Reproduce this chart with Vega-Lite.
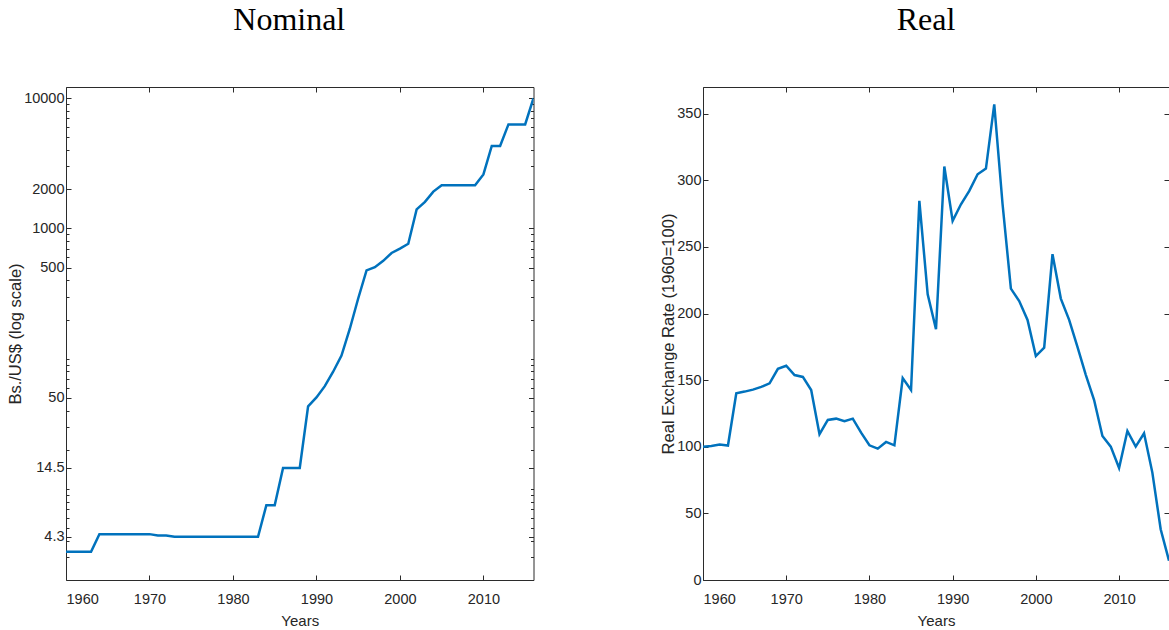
{
  "$schema": "https://vega.github.io/schema/vega-lite/v6.json",
  "padding": {"left": 7, "top": 3, "right": 0, "bottom": 0},
  "background": "white",
  "spacing": 126,
  "datasets": {
    "nominal": [
      {"year": 1960, "rate": 3.3}, {"year": 1961, "rate": 3.3}, {"year": 1962, "rate": 3.3}, {"year": 1963, "rate": 3.3},
      {"year": 1964, "rate": 4.5}, {"year": 1965, "rate": 4.5}, {"year": 1966, "rate": 4.5}, {"year": 1967, "rate": 4.5},
      {"year": 1968, "rate": 4.5}, {"year": 1969, "rate": 4.5}, {"year": 1970, "rate": 4.5}, {"year": 1971, "rate": 4.4},
      {"year": 1972, "rate": 4.4}, {"year": 1973, "rate": 4.3}, {"year": 1974, "rate": 4.3}, {"year": 1975, "rate": 4.3},
      {"year": 1976, "rate": 4.3}, {"year": 1977, "rate": 4.3}, {"year": 1978, "rate": 4.3}, {"year": 1979, "rate": 4.3},
      {"year": 1980, "rate": 4.3}, {"year": 1981, "rate": 4.3}, {"year": 1982, "rate": 4.3}, {"year": 1983, "rate": 4.3},
      {"year": 1984, "rate": 7.5}, {"year": 1985, "rate": 7.5}, {"year": 1986, "rate": 14.5}, {"year": 1987, "rate": 14.5},
      {"year": 1988, "rate": 14.5}, {"year": 1989, "rate": 43.1}, {"year": 1990, "rate": 50.4}, {"year": 1991, "rate": 61.6},
      {"year": 1992, "rate": 79.5}, {"year": 1993, "rate": 105.6}, {"year": 1994, "rate": 170}, {"year": 1995, "rate": 290},
      {"year": 1996, "rate": 476.5}, {"year": 1997, "rate": 504.3}, {"year": 1998, "rate": 564.5}, {"year": 1999, "rate": 648.3},
      {"year": 2000, "rate": 699.8}, {"year": 2001, "rate": 763}, {"year": 2002, "rate": 1401.3}, {"year": 2003, "rate": 1600},
      {"year": 2004, "rate": 1920}, {"year": 2005, "rate": 2150}, {"year": 2006, "rate": 2150}, {"year": 2007, "rate": 2150},
      {"year": 2008, "rate": 2150}, {"year": 2009, "rate": 2150}, {"year": 2010, "rate": 2600}, {"year": 2011, "rate": 4300},
      {"year": 2012, "rate": 4300}, {"year": 2013, "rate": 6300}, {"year": 2014, "rate": 6300}, {"year": 2015, "rate": 6300},
      {"year": 2016, "rate": 10000}
    ],
    "real": [
      {"year": 1960, "rer": 100}, {"year": 1961, "rer": 100.6}, {"year": 1962, "rer": 101.6}, {"year": 1963, "rer": 100.9},
      {"year": 1964, "rer": 140.1}, {"year": 1965, "rer": 141.4}, {"year": 1966, "rer": 142.9}, {"year": 1967, "rer": 144.9},
      {"year": 1968, "rer": 147.6}, {"year": 1969, "rer": 158.5}, {"year": 1970, "rer": 160.8}, {"year": 1971, "rer": 153.8},
      {"year": 1972, "rer": 152.4}, {"year": 1973, "rer": 142.6}, {"year": 1974, "rer": 109.4}, {"year": 1975, "rer": 120.1},
      {"year": 1976, "rer": 121.1}, {"year": 1977, "rer": 119.1}, {"year": 1978, "rer": 121.1}, {"year": 1979, "rer": 110.6},
      {"year": 1980, "rer": 101.1}, {"year": 1981, "rer": 98.6}, {"year": 1982, "rer": 103.6}, {"year": 1983, "rer": 101.1},
      {"year": 1984, "rer": 151.5}, {"year": 1985, "rer": 142.6}, {"year": 1986, "rer": 284.5}, {"year": 1987, "rer": 214.4},
      {"year": 1988, "rer": 188.2}, {"year": 1989, "rer": 310.3}, {"year": 1990, "rer": 269.5}, {"year": 1991, "rer": 282},
      {"year": 1992, "rer": 292}, {"year": 1993, "rer": 304.5}, {"year": 1994, "rer": 308.8}, {"year": 1995, "rer": 357},
      {"year": 1996, "rer": 282}, {"year": 1997, "rer": 218.7}, {"year": 1998, "rer": 209.4}, {"year": 1999, "rer": 195.2},
      {"year": 2000, "rer": 168.1}, {"year": 2001, "rer": 174.4}, {"year": 2002, "rer": 244.5}, {"year": 2003, "rer": 211.2},
      {"year": 2004, "rer": 195.2}, {"year": 2005, "rer": 175}, {"year": 2006, "rer": 154}, {"year": 2007, "rer": 135.1},
      {"year": 2008, "rer": 108.1}, {"year": 2009, "rer": 100.1}, {"year": 2010, "rer": 84.1}, {"year": 2011, "rer": 111.8},
      {"year": 2012, "rer": 100.1}, {"year": 2013, "rer": 110.1}, {"year": 2014, "rer": 80.6}, {"year": 2015, "rer": 38.1},
      {"year": 2016, "rer": 14.5}
    ]
  },
  "hconcat": [
    {
      "data": {"name": "nominal"},
      "width": 467.5,
      "height": 493,
      "title": {"text": "Nominal", "font": "Liberation Serif", "fontSize": 32, "fontWeight": "normal", "color": "#000000", "baseline": "alphabetic", "offset": 25, "dx": -10.5},
      "layer": [
        {
          "mark": {"type": "line", "color": "#0072BD", "strokeWidth": 2.5, "clip": true},
          "encoding": {
            "x": {"field": "year", "type": "quantitative", "scale": {"domain": [1960, 2016], "nice": false, "zero": false},
              "axis": {"orient": "bottom", "values": [1960, 1970, 1980, 1990, 2000, 2010], "format": "d", "title": "Years", "tickSize": -5, "labelPadding": 17, "titlePadding": 8}},
            "y": {"field": "rate", "type": "quantitative", "scale": {"type": "log", "domain": [2, 12200], "nice": false},
              "axis": {"orient": "left", "title": "Bs./US$ (log scale)",
                "values": [3, 4, 4.3, 5, 6, 7, 8, 9, 10, 14.5, 20, 30, 40, 50, 60, 70, 80, 90, 100, 200, 300, 400, 500, 600, 700, 800, 900, 1000, 2000, 3000, 4000, 5000, 6000, 7000, 8000, 9000, 10000],
                "labelExpr": "indexof([4.3, 14.5, 50, 500, 1000, 2000, 10000], datum.value) >= 0 ? format(datum.value, '~g') : ''",
                "labelOverlap": false, "labelBound": false,
                "tickSize": {"condition": {"test": "indexof([4.3, 14.5, 50, 500, 1000, 2000, 10000], datum.value) >= 0", "value": -5}, "value": -3},
                "labelPadding": 7, "titlePadding": 0}}
          }
        },
        {
          "mark": {"type": "line", "opacity": 0},
          "encoding": {
            "x": {"field": "year", "type": "quantitative",
              "axis": {"orient": "top", "values": [1960, 1970, 1980, 1990, 2000, 2010], "labels": false, "title": null, "tickSize": -5}},
            "y": {"field": "rate", "type": "quantitative",
              "axis": {"orient": "right", "labels": false, "title": null,
                "values": [3, 4, 4.3, 5, 6, 7, 8, 9, 10, 14.5, 20, 30, 40, 50, 60, 70, 80, 90, 100, 200, 300, 400, 500, 600, 700, 800, 900, 1000, 2000, 3000, 4000, 5000, 6000, 7000, 8000, 9000, 10000],
                "tickSize": {"condition": {"test": "indexof([4.3, 14.5, 50, 500, 1000, 2000, 10000], datum.value) >= 0", "value": -5}, "value": -3}}}
          }
        }
      ],
      "resolve": {"axis": {"x": "independent", "y": "independent"}}
    },
    {
      "data": {"name": "real"},
      "width": 466,
      "height": 493,
      "title": {"text": "Real", "font": "Liberation Serif", "fontSize": 32, "fontWeight": "normal", "color": "#000000", "baseline": "alphabetic", "offset": 25, "dx": -10},
      "layer": [
        {
          "mark": {"type": "line", "color": "#0072BD", "strokeWidth": 2.5, "clip": true},
          "encoding": {
            "x": {"field": "year", "type": "quantitative", "scale": {"domain": [1960, 2016], "nice": false, "zero": false},
              "axis": {"orient": "bottom", "values": [1960, 1970, 1980, 1990, 2000, 2010], "format": "d", "title": "Years", "tickSize": -5, "labelPadding": 17, "titlePadding": 8}},
            "y": {"field": "rer", "type": "quantitative", "scale": {"domain": [0, 370], "nice": false},
              "axis": {"orient": "left", "title": "Real Exchange Rate (1960=100)", "values": [0, 50, 100, 150, 200, 250, 300, 350], "tickSize": -5, "labelPadding": 7, "titlePadding": 0}}
          }
        },
        {
          "mark": {"type": "line", "opacity": 0},
          "encoding": {
            "x": {"field": "year", "type": "quantitative",
              "axis": {"orient": "top", "values": [1960, 1970, 1980, 1990, 2000, 2010], "labels": false, "title": null, "tickSize": -5}},
            "y": {"field": "rer", "type": "quantitative",
              "axis": {"orient": "right", "labels": false, "title": null, "domain": false, "values": [0, 50, 100, 150, 200, 250, 300, 350], "tickSize": -5}}
          }
        }
      ],
      "resolve": {"axis": {"x": "independent", "y": "independent"}}
    }
  ],
  "config": {
    "view": {"stroke": null},
    "title": {"anchor": "middle"},
    "axis": {
      "grid": false,
      "domainColor": "#2b2b2b",
      "domainWidth": 1,
      "tickColor": "#2b2b2b",
      "tickWidth": 1,
      "labelColor": "#262626",
      "labelFont": "Liberation Sans Narrow, Liberation Sans, sans-serif",
      "labelFontSize": 14.5,
      "titleColor": "#262626",
      "titleFont": "Liberation Sans",
      "titleFontWeight": "normal"
    },
    "axisX": {"titleFont": "Liberation Sans Narrow, Liberation Sans, sans-serif", "titleFontSize": 15},
    "axisY": {"titleFontSize": 16.5}
  }
}
